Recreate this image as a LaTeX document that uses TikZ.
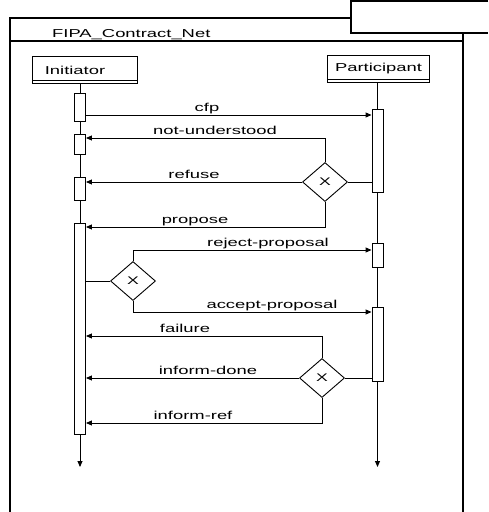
\documentclass[tikz,border=0pt]{standalone}
\usepackage{fontspec}
\setmainfont{Liberation Sans}[FakeStretch=1.6]
\usetikzlibrary{arrows.meta,shapes.geometric}
\begin{document}
\begin{tikzpicture}[x=1pt,y=-1pt,
  frame/.style={line width=1.4pt},
  txt/.style={font=\fontsize{11.5}{12}\selectfont, inner sep=0pt},
  lbl/.style={txt, anchor=base},
  head/.style={draw, line width=1pt, minimum height=27pt, inner sep=0pt, font=\fontsize{11.5}{12}\selectfont},
  lifeline/.style={line width=0.9pt, -{Triangle[length=6pt,width=5pt]}},
  act/.style={draw, fill=white, line width=0.9pt, minimum width=11pt, inner sep=0pt},
  gate/.style={draw, diamond, fill=white, line width=0.9pt, minimum width=45pt, minimum height=39pt, inner sep=0pt, font=\fontsize{11}{12}\selectfont},
  msg/.style={line width=0.9pt, -{Triangle[length=6pt,width=5pt]}},
  link/.style={line width=0.9pt}]
\useasboundingbox (0,0) rectangle (488,512);
% frame
\draw[frame] (10,512) -- (10,18) -- (351,18);
\draw[frame] (463,33) -- (463,512);
\draw[frame] (10,41) -- (463,41);
\draw[frame] (488,1) -- (351,1) -- (351,33) -- (488,33);
\node[txt, anchor=base west] (title) at (52,37) {FIPA\_Contract\_Net};
% heads
\node[head, anchor=north west, minimum width=105pt] (init) at (32,56) {\hspace*{-20pt}Initiator};
\draw[line width=1pt] ([yshift=4pt]init.south west) -- ([yshift=4pt]init.south east);
\node[head, anchor=north west, minimum width=102pt] (part) at (327,55) {Participant};
\draw[line width=1pt] ([yshift=4pt]part.south west) -- ([yshift=4pt]part.south east);
% lifelines
\coordinate (iend) at (80,467);
\coordinate (pend) at (377.5,467);
\draw[lifeline] (init.south -| iend) -- (iend);
\draw[lifeline] (part.south -| pend) -- (pend);
% activations
\node[act, minimum height=28pt] (ia1) at (80,107) {};
\node[act, minimum height=20pt] (ia2) at (80,144) {};
\node[act, minimum height=23pt] (ia3) at (80,188.5) {};
\node[act, minimum height=211pt] (ia4) at (80,328.5) {};
\node[act, minimum height=83pt] (pa1) at (377.5,150.5) {};
\node[act, minimum height=24pt] (pa2) at (377.5,255) {};
\node[act, minimum height=74pt] (pa3) at (377.5,344) {};
% gates
\node[gate] (d1) at (325,182) {X};
\node[gate] (d2) at (133,281) {X};
\node[gate] (d3) at (322,378) {X};
% rows
\coordinate (rcfp) at (0,115);
\coordinate (rnu) at (0,138);
\coordinate (rprop) at (0,227);
\coordinate (rrej) at (0,250);
\coordinate (racc) at (0,312);
\coordinate (rfail) at (0,336);
\coordinate (rref) at (0,423);
% messages
\draw[msg] (ia1.east |- rcfp) -- (pa1.west |- rcfp);
\draw[msg] (d1.north) |- (ia2.east |- rnu);
\draw[msg] (d1.west) -- (ia3.east |- d1.west);
\draw[link] (d1.east) -- (pa1.west |- d1.east);
\draw[msg] (d1.south) |- (ia4.east |- rprop);
\draw[link] (ia4.east |- d2.west) -- (d2.west);
\draw[msg] (d2.north) |- (pa2.west |- rrej);
\draw[msg] (d2.south) |- (pa3.west |- racc);
\draw[msg] (d3.north) |- (ia4.east |- rfail);
\draw[msg] (d3.west) -- (ia4.east |- d3.west);
\draw[link] (d3.east) -- (pa3.west |- d3.east);
\draw[msg] (d3.south) |- (ia4.east |- rref);
% labels
\node[lbl] (lcfp) at (207,111.5) {cfp};
\node[lbl] (lnu) at (215,134.5) {not-understood};
\node[lbl] (lref) at (194,178.5) {refuse};
\node[lbl] (lprop) at (195,223.5) {propose};
\node[lbl] (lrej) at (268,246.5) {reject-proposal};
\node[lbl] (lacc) at (272,308.5) {accept-proposal};
\node[lbl] (lfail) at (185,332.5) {failure};
\node[lbl] (ldone) at (208,374.5) {inform-done};
\node[lbl] (linf) at (193,419.5) {inform-ref};
\end{tikzpicture}
\end{document}
